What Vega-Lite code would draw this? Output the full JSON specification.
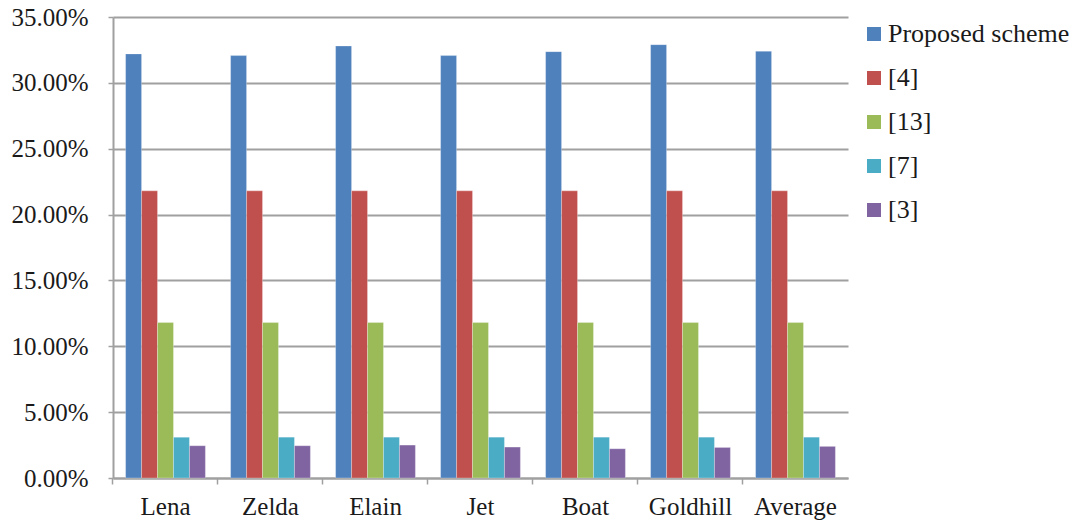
{
  "$schema": "https://vega.github.io/schema/vega-lite/v6.json",
  "width": 735,
  "height": 461,
  "autosize": {"type": "none"},
  "padding": {"left": 113, "top": 17, "right": 225, "bottom": 45},
  "background": "white",
  "data": {"values": [
    {"image": "Lena", "method": "Proposed scheme", "value": 0.322},
    {"image": "Lena", "method": "[4]", "value": 0.218},
    {"image": "Lena", "method": "[13]", "value": 0.118},
    {"image": "Lena", "method": "[7]", "value": 0.031},
    {"image": "Lena", "method": "[3]", "value": 0.0245},
    {"image": "Zelda", "method": "Proposed scheme", "value": 0.3207},
    {"image": "Zelda", "method": "[4]", "value": 0.218},
    {"image": "Zelda", "method": "[13]", "value": 0.118},
    {"image": "Zelda", "method": "[7]", "value": 0.031},
    {"image": "Zelda", "method": "[3]", "value": 0.0245},
    {"image": "Elain", "method": "Proposed scheme", "value": 0.328},
    {"image": "Elain", "method": "[4]", "value": 0.218},
    {"image": "Elain", "method": "[13]", "value": 0.118},
    {"image": "Elain", "method": "[7]", "value": 0.031},
    {"image": "Elain", "method": "[3]", "value": 0.025},
    {"image": "Jet", "method": "Proposed scheme", "value": 0.3207},
    {"image": "Jet", "method": "[4]", "value": 0.218},
    {"image": "Jet", "method": "[13]", "value": 0.118},
    {"image": "Jet", "method": "[7]", "value": 0.031},
    {"image": "Jet", "method": "[3]", "value": 0.0235},
    {"image": "Boat", "method": "Proposed scheme", "value": 0.3237},
    {"image": "Boat", "method": "[4]", "value": 0.218},
    {"image": "Boat", "method": "[13]", "value": 0.118},
    {"image": "Boat", "method": "[7]", "value": 0.031},
    {"image": "Boat", "method": "[3]", "value": 0.0222},
    {"image": "Goldhill", "method": "Proposed scheme", "value": 0.329},
    {"image": "Goldhill", "method": "[4]", "value": 0.218},
    {"image": "Goldhill", "method": "[13]", "value": 0.118},
    {"image": "Goldhill", "method": "[7]", "value": 0.031},
    {"image": "Goldhill", "method": "[3]", "value": 0.0232},
    {"image": "Average", "method": "Proposed scheme", "value": 0.324},
    {"image": "Average", "method": "[4]", "value": 0.218},
    {"image": "Average", "method": "[13]", "value": 0.118},
    {"image": "Average", "method": "[7]", "value": 0.031},
    {"image": "Average", "method": "[3]", "value": 0.024}
  ]},
  "mark": {"type": "bar", "stroke": "#ffffff", "strokeOpacity": 0.35, "strokeWidth": 0.8},
  "encoding": {
    "x": {
      "field": "image", "type": "nominal",
      "sort": ["Lena", "Zelda", "Elain", "Jet", "Boat", "Goldhill", "Average"],
      "scale": {"paddingInner": 0.24, "paddingOuter": 0.12},
      "axis": {
        "title": null, "labelAngle": 0, "bandPosition": -0.158,
        "labelFont": "Liberation Serif", "labelFontSize": 25, "labelColor": "#1a1a1a",
        "labelPadding": 10, "tickSize": 6, "tickColor": "#a0a0a0", "tickWidth": 1.5,
        "domainColor": "#a0a0a0", "domainWidth": 2, "grid": false, "labelBound": false
      }
    },
    "xOffset": {"field": "method", "type": "nominal", "sort": ["Proposed scheme", "[4]", "[13]", "[7]", "[3]"], "scale": {"paddingInner": 0, "paddingOuter": 0}},
    "y": {
      "field": "value", "type": "quantitative",
      "scale": {"domain": [0, 0.35], "nice": false},
      "axis": {
        "title": null, "format": ".2%", "values": [0, 0.05, 0.1, 0.15, 0.2, 0.25, 0.3, 0.35],
        "labelFont": "Liberation Serif", "labelFontSize": 25, "labelColor": "#1a1a1a",
        "labelPadding": 20, "tickSize": 5, "tickColor": "#a0a0a0", "tickWidth": 1.5,
        "domainColor": "#a0a0a0", "domainWidth": 2,
        "grid": true, "gridColor": "#a0a0a0", "gridWidth": 2
      }
    },
    "color": {
      "field": "method", "type": "nominal",
      "sort": ["Proposed scheme", "[4]", "[13]", "[7]", "[3]"],
      "scale": {"domain": ["Proposed scheme", "[4]", "[13]", "[7]", "[3]"], "range": ["#4f81bd", "#c0504d", "#9bbb59", "#4bacc6", "#8064a2"]},
      "legend": {
        "title": null, "orient": "none", "legendX": 748, "legendY": 4,
        "symbolType": "square", "symbolSize": 196, "symbolStrokeWidth": 0,
        "labelFont": "Liberation Serif", "labelFontSize": 26, "labelColor": "#1a1a1a",
        "labelOffset": 1, "rowPadding": 18, "labelLimit": 300
      }
    }
  },
  "config": {"view": {"stroke": null}}
}
